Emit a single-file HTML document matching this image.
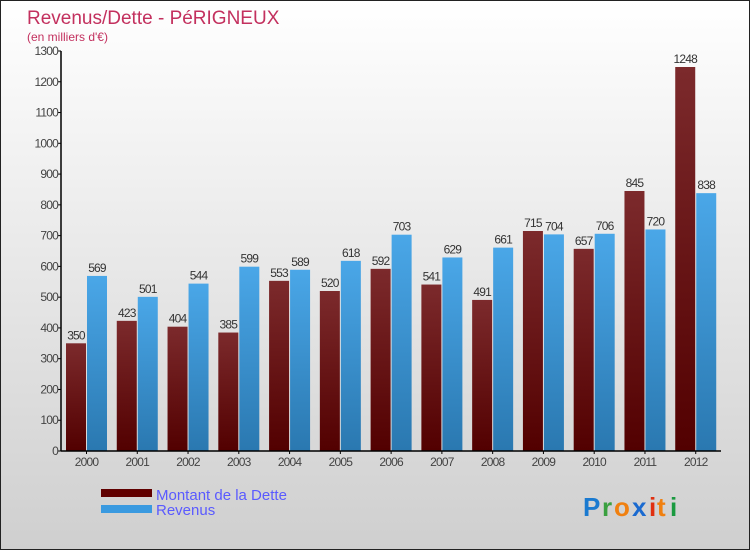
<!DOCTYPE html>
<html><head><meta charset="utf-8"><style>
body{margin:0;}
#c{width:748px;height:548px;border:1px solid #222;position:relative;background:linear-gradient(#fff,#cfcfcf);font-family:"Liberation Sans",sans-serif;overflow:hidden}
</style></head><body>
<div id="c">
<svg id="s" width="748" height="548" xmlns="http://www.w3.org/2000/svg" font-family="Liberation Sans, sans-serif">
<defs>
<linearGradient id="gd" x1="0" y1="0" x2="0" y2="1"><stop offset="0" stop-color="#7c2a2c"/><stop offset="1" stop-color="#520000"/></linearGradient>
<linearGradient id="gr" x1="0" y1="0" x2="0" y2="1"><stop offset="0" stop-color="#4aa7e8"/><stop offset="1" stop-color="#2a78b0"/></linearGradient>
</defs>
<text x="26" y="23" font-size="19" fill="#c3305e">Revenus/Dette - PéRIGNEUX</text>
<text x="26" y="40" font-size="12" fill="#c3305e">(en milliers d'€)</text>
<g id="plot"></g>
<rect x="100" y="488" width="51" height="8" fill="#600000"/>
<rect x="100" y="504" width="51" height="8" fill="#3a9ae0"/>
<text x="155" y="499" font-size="15" fill="#5a5aff">Montant de la Dette</text>
<text x="155" y="514" font-size="15" fill="#5a5aff">Revenus</text>
<g font-size="26" font-weight="bold">
<text x="582" y="515" fill="#1a7ad0">P</text><text x="601" y="515" fill="#3aa040">r</text><text x="613" y="515" fill="#f08010">o</text><text x="631" y="515" fill="#1a6ad0">x</text><text x="648" y="515" fill="#e03010">i</text><text x="656" y="515" fill="#f08010">t</text><text x="669" y="515" fill="#1a9a40">i</text>
</g>
</svg>
</div>
<script>
const categories=["2000","2001","2002","2003","2004","2005","2006","2007","2008","2009","2010","2011","2012"];
const dette=[350,423,404,385,553,520,592,541,491,715,657,845,1248];
const revenus=[569,501,544,599,589,618,703,629,661,704,706,720,838];
const yTicks=[0,100,200,300,400,500,600,700,800,900,1000,1100,1200,1300];
const NS="http://www.w3.org/2000/svg";
const g=document.getElementById('plot');
const x0=60,x1=720,y0=450,yTop=50,yMax=1300;
const step=(x1-x0)/categories.length;
function y(v){return y0-(v/yMax)*(y0-yTop);}
function gx(i){return x0+i*step;}
function mk(t,a){const e=document.createElementNS(NS,t);for(const k in a)e.setAttribute(k,a[k]);g.appendChild(e);return e;}
yTicks.forEach(v=>{
  const l=mk('line',{x1:x0-3,x2:x0,y1:y(v),y2:y(v),stroke:'#000'});
  
  
  const t=mk('text',{x:x0-3,y:y(v)+4,'text-anchor':'end','font-size':12,fill:'#444','letter-spacing':'-0.8'});
  t.textContent=v;
  
  
});
categories.forEach((c,i)=>{
  const bx=gx(i)+5,w=20;
  const b1=mk('rect',{x:bx,y:y(dette[i]),width:w,height:y0-y(dette[i]),fill:'url(#gd)'});
  
  
  const b2=mk('rect',{x:bx+w+1,y:y(revenus[i]),width:w,height:y0-y(revenus[i]),fill:'url(#gr)'});
  
  
  const t1=mk('text',{x:bx+w/2,y:y(dette[i])-4,'text-anchor':'middle','font-size':12,fill:'#333','letter-spacing':'-0.8'});
  t1.textContent=dette[i];
  
  
  const t2=mk('text',{x:bx+w+1+w/2,y:y(revenus[i])-4,'text-anchor':'middle','font-size':12,fill:'#333','letter-spacing':'-0.8'});
  t2.textContent=revenus[i];
  
  
  const tk=mk('line',{x1:bx+w+0.5,x2:bx+w+0.5,y1:y0,y2:y0+3,stroke:'#000'});
  
  
  const xl=mk('text',{x:bx+w+0.5,y:y0+15,'text-anchor':'middle','font-size':12,fill:'#444','letter-spacing':'-0.8'});
  xl.textContent=c;
  
  
});
const ya=mk('line',{x1:x0,x2:x0,y1:yTop,y2:y0,stroke:'#000','stroke-width':1.5});


const xa=mk('line',{x1:x0,x2:x1,y1:y0,y2:y0,stroke:'#000','stroke-width':1.5});


</script>
</body></html>
